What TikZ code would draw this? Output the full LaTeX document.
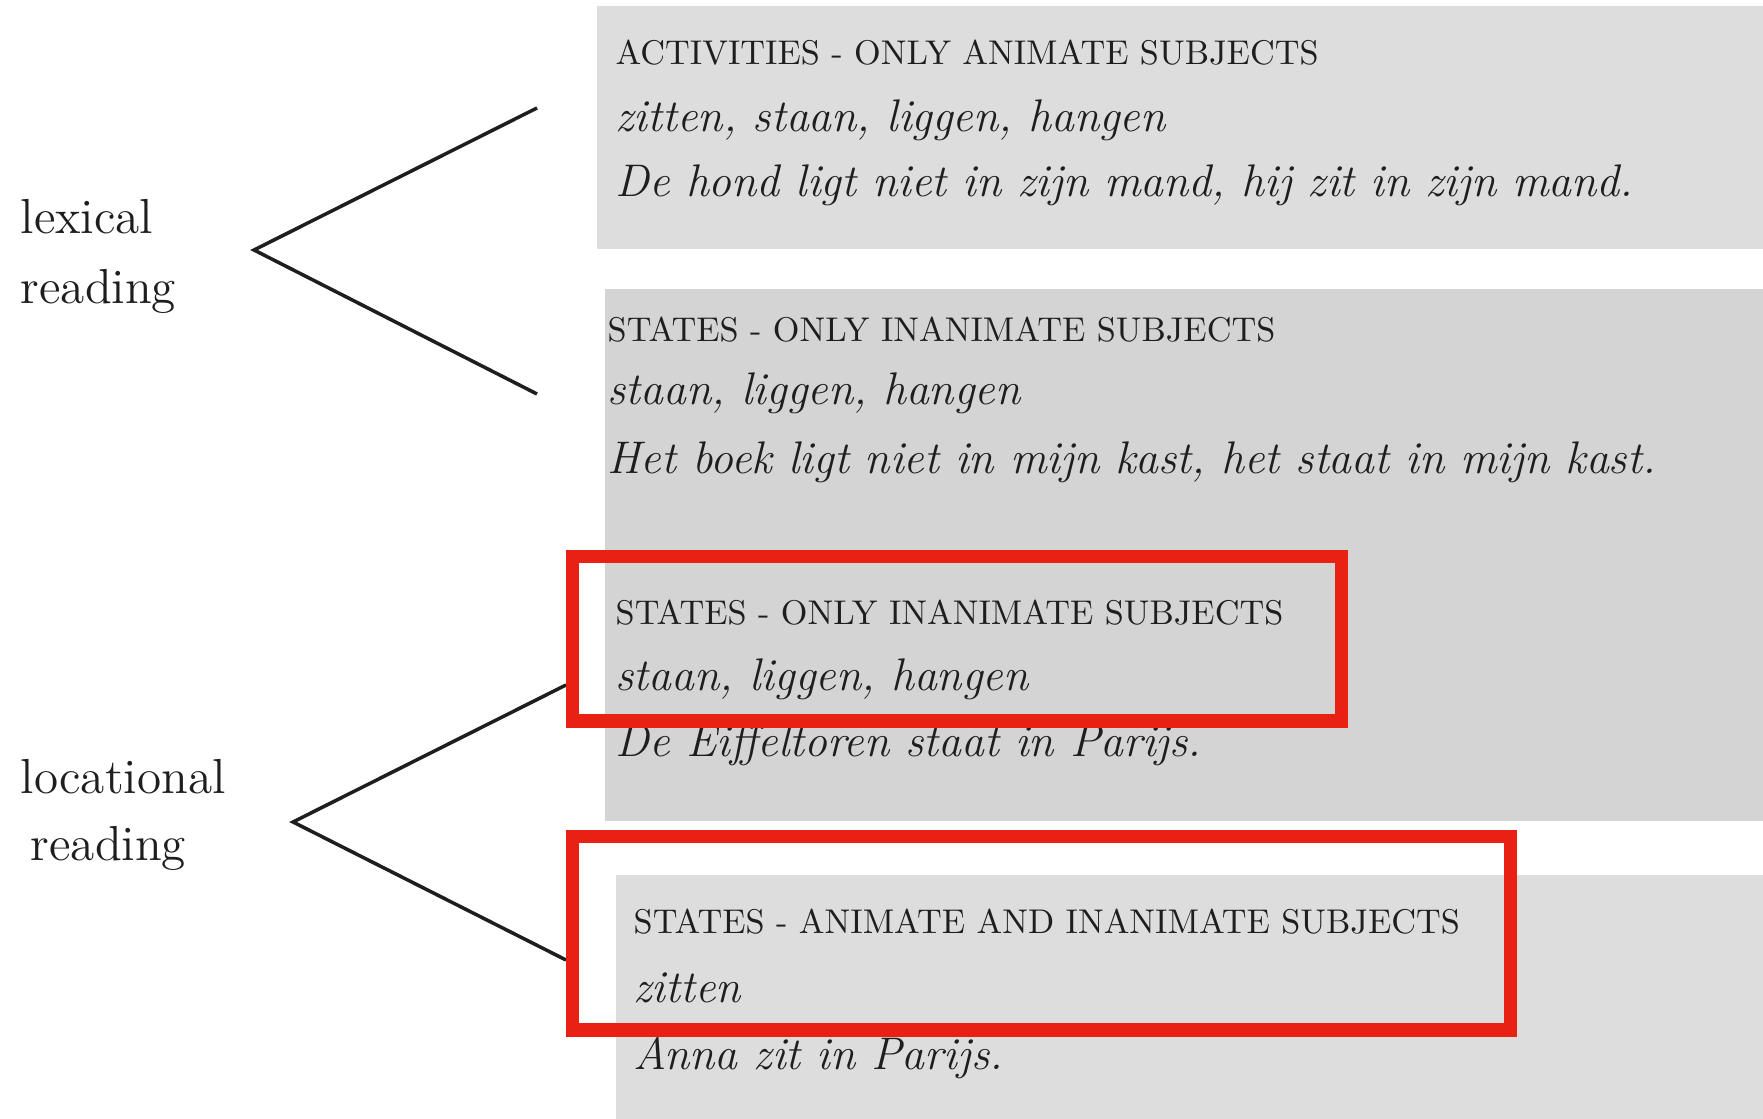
\documentclass[tikz,border=0pt]{standalone}
\usepackage{tikz}

\definecolor{panelgray}{RGB}{221,221,221}
\definecolor{paneldark}{RGB}{212,212,212}
\definecolor{framered}{RGB}{233,33,18}
\definecolor{inkgray}{RGB}{30,30,30}

\tikzset{
  label/.style={inner sep=0pt, anchor=base west, text=inkgray,
    font=\fontsize{14}{16}\selectfont},
  classline/.style={inner sep=0pt, anchor=base west, text=inkgray,
    font=\fontsize{9.75}{11}\selectfont},
  verbline/.style={inner sep=0pt, anchor=base west, text=inkgray,
    font=\fontsize{13}{15}\selectfont\itshape},
  branch/.style={line width=1pt, draw=inkgray},
  redframe/.style={line width=3.7pt, draw=framered}
}

\begin{document}
\begin{tikzpicture}[x=0.01cm, y=-0.01cm]
  \useasboundingbox (0,0) rectangle (1763,1119);

  % grey panels
  \fill[panelgray] (597,6) rectangle (1763,249);
  \fill[paneldark] (605,289) rectangle (1763,821);
  \fill[panelgray] (616,875) rectangle (1763,1119);

  % readings
  \node[label] (lexword) at (20,234) {lexical};
  \node[label] (lexreading) at (20,304) {reading};
  \node[label] (locword) at (20,794) {locational};
  \node[label] (locreading) at (30,861) {reading};

  % branches
  \coordinate (lexroot) at (254,250);
  \coordinate (lexup) at (537,108);
  \coordinate (lexdown) at (537,394);
  \draw[branch] (lexup) -- (lexroot) -- (lexdown);

  \coordinate (locroot) at (293,822);
  \coordinate (locup) at (566,685);
  \coordinate (locdown) at (566,960);
  \draw[branch] (locup) -- (locroot) -- (locdown);

  % activities
  \node[classline] (actclass) at (615,65) {ACTIVITIES - ONLY ANIMATE SUBJECTS};
  \node[verbline] (actverbs) at (615,132) {zitten, staan, liggen, hangen};
  \node[verbline] (actexample) at (615,197) {De hond ligt niet in zijn mand, hij zit in zijn mand.};

  % states, lexical
  \node[classline] (lexclass) at (607,342) {STATES - ONLY INANIMATE SUBJECTS};
  \node[verbline] (lexverbs) at (607,405) {staan, liggen, hangen};
  \node[verbline] (lexexample) at (607,474) {Het boek ligt niet in mijn kast, het staat in mijn kast.};

  % states, locational
  \node[classline] (locclass) at (615,625) {STATES - ONLY INANIMATE SUBJECTS};
  \node[verbline] (locverbs) at (615,691) {staan, liggen, hangen};
  \node[verbline] (locexample) at (615,757) {De Eiffeltoren staat in Parijs.};

  \node[classline] (allclass) at (633,934) {STATES - ANIMATE AND INANIMATE SUBJECTS};
  \node[verbline] (allverbs) at (633,1002) {zitten};
  \node[verbline] (allexample) at (633,1070) {Anna zit in Parijs.};

  % red frames
  \draw[redframe] (572.5,556.5) rectangle (1341,721);
  \draw[redframe] (572.5,836.5) rectangle (1510,1030);
\end{tikzpicture}
\end{document}
